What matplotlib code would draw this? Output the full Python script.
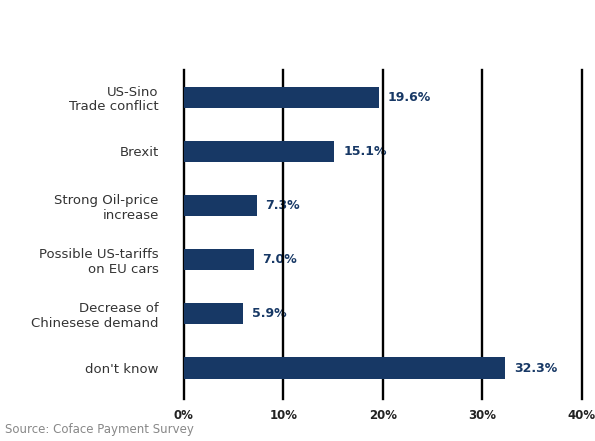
import matplotlib.pyplot as plt

categories = ["US-Sino\nTrade conflict", "Brexit", "Strong Oil-price\nincrease",
              "Possible US-tariffs\non EU cars", "Decrease of\nChinesese demand", "don't know"]
shares = [19.6, 15.1, 7.3, 7.0, 5.9, 32.3]
xticks = [0, 10, 20, 30, 40]

NAVY = "#173865"

plt.rcParams["font.family"] = ["DejaVu Sans"]
fig = plt.figure(figsize=(5.95, 4.41), dpi=100)
ax = fig.add_axes([0.309, 0.104, 0.669, 0.737])

y = list(range(len(categories)))
ax.barh(y, shares, height=0.39, color=NAVY, zorder=3)
for yi, v in zip(y, shares):
    ax.text(v + 0.9, yi, f"{v}%", va="center", ha="left", fontsize=9,
            fontweight="bold", color=NAVY, zorder=1)

ax.set_xlim(0, 40)
ax.set_ylim(len(categories) - 0.5, -0.5)
for x in xticks:
    ax.axvline(x, color="black", lw=1.7, zorder=2, ymin=-0.012, clip_on=False)

ax.set_yticks(y)
ax.set_yticklabels(categories, fontsize=9.5, color="#333333", linespacing=1.15)
ax.set_xticks(xticks)
ax.set_xticklabels([f"{x}%" for x in xticks], fontsize=8.5, fontweight="bold", color="#222222")
ax.tick_params(axis="y", length=0, pad=18)
ax.tick_params(axis="x", length=0, pad=10)
for s in ax.spines.values():
    s.set_visible(False)

fig.text(0.008, 0.018, "Source: Coface Payment Survey", fontsize=8.5, color="#888888")

fig.savefig("out.png", dpi=100)
